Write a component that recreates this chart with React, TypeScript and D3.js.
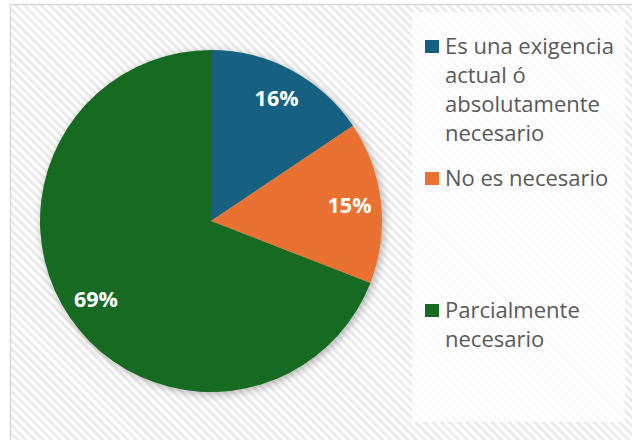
import React, { useEffect, useRef } from 'react'
import * as d3 from 'd3'

// categories and values (percent of answers)
const categories = [
  'Es una exigencia actual ó absolutamente necesario',
  'No es necesario',
  'Parcialmente necesario',
]
const values = [15.6, 15.3, 69.1]
const colors = ['#156082', '#E97132', '#196B24']
// legend text, as wrapped in the original
const legendLines = [
  ['Es una exigencia', 'actual ó', 'absolutamente', 'necesario'],
  ['No es necesario'],
  ['Parcialmente', 'necesario'],
]

const W = 632
const H = 440
const FONT = '"Open Sans", "Noto Sans", sans-serif'

export default function App() {
  const svgRef = useRef<SVGSVGElement>(null)

  useEffect(() => {
    const svg = d3.select(svgRef.current)
    svg.selectAll('*').remove()

    const defs = svg.append('defs')
    const pat = defs
      .append('pattern')
      .attr('id', 'stripes')
      .attr('patternUnits', 'userSpaceOnUse')
      .attr('width', 6)
      .attr('height', 6)
      .attr('patternTransform', 'rotate(-45)')
    pat.append('rect').attr('width', 6).attr('height', 6).attr('fill', '#ffffff')
    pat.append('rect').attr('width', 3).attr('height', 6).attr('fill', '#ececec')

    const shadow = defs
      .append('filter')
      .attr('id', 'shadow')
      .attr('x', '-20%')
      .attr('y', '-20%')
      .attr('width', '140%')
      .attr('height', '140%')
    shadow
      .append('feDropShadow')
      .attr('dx', 2)
      .attr('dy', 2)
      .attr('stdDeviation', 4)
      .attr('flood-color', '#000')
      .attr('flood-opacity', 0.3)

    // chart area
    svg
      .append('rect')
      .attr('x', 10.5)
      .attr('y', 4.5)
      .attr('width', W + 20)
      .attr('height', H + 20)
      .attr('fill', 'url(#stripes)')
      .attr('stroke', '#d9d9d9')
      .attr('stroke-width', 1.5)

    // legend box
    svg
      .append('rect')
      .attr('x', 412)
      .attr('y', 12)
      .attr('width', 213)
      .attr('height', 410)
      .attr('fill', '#ffffff')
      .attr('opacity', 0.75)

    // pie
    const cx = 211
    const cy = 221
    const r = 171
    const pie = d3
      .pie<number>()
      .sort(null)
      .value((d) => d)
    const arcs = pie(values)
    const arc = d3.arc<d3.PieArcDatum<number>>().innerRadius(0).outerRadius(r)
    const labelArc = d3
      .arc<d3.PieArcDatum<number>>()
      .innerRadius(r * 0.815)
      .outerRadius(r * 0.815)

    const g = svg.append('g').attr('transform', `translate(${cx},${cy})`)
    g.append('g')
      .attr('filter', 'url(#shadow)')
      .selectAll('path')
      .data(arcs)
      .enter()
      .append('path')
      .attr('d', arc)
      .attr('fill', (d, i) => colors[i])

    g.selectAll('.lbl')
      .data(arcs)
      .enter()
      .append('text')
      .attr('class', 'lbl')
      .attr('transform', (d) => `translate(${labelArc.centroid(d)})`)
      .attr('text-anchor', 'middle')
      .attr('dy', '0.36em')
      .attr('fill', '#ffffff')
      .attr('font-family', FONT)
      .attr('font-weight', 700)
      .attr('font-size', 21.5)
      .text((d) => `${Math.round(d.data)}%`)

    // legend
    const ly = d3.scalePoint<string>().domain(categories).range([54, 318])
    const lg = svg
      .selectAll('.leg')
      .data(categories)
      .enter()
      .append('g')
      .attr('class', 'leg')
      .attr('transform', (d) => `translate(425,${ly(d)})`)
    lg.append('rect')
      .attr('x', 0)
      .attr('y', -14)
      .attr('width', 14)
      .attr('height', 13)
      .attr('fill', (d, i) => colors[i])
    lg.each(function (d, i) {
      const t = d3
        .select(this)
        .append('text')
        .attr('font-family', FONT)
        .attr('font-size', 22)
        .attr('fill', '#595959')
      legendLines[i].forEach((line, j) => {
        t.append('tspan').attr('x', 20).attr('y', j * 29).text(line)
      })
    })
  }, [])

  return (
    <svg
      ref={svgRef}
      width={W}
      height={H}
      style={{ position: 'absolute', left: 0, top: 0, display: 'block' }}
    />
  )
}
